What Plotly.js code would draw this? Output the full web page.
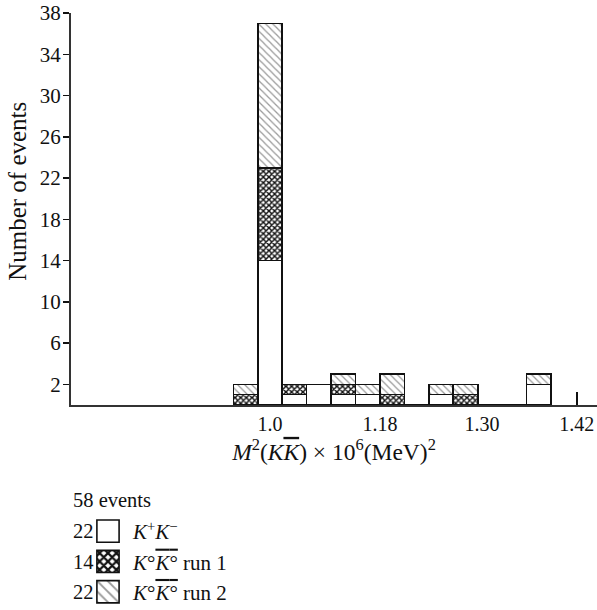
<!DOCTYPE html>
<html>
<head>
<meta charset="utf-8">
<script src="https://cdn.plot.ly/plotly-3.0.1.min.js"></script>
<style>
  html, body { margin: 0; padding: 0; background: #fff; }
  #chart { width: 597px; height: 610px; }
</style>
</head>
<body>
<div id="chart"></div>
<script>
// Histogram bins (index along the M^2 axis) and event counts per sample
const binIndex    = [0, 1, 2, 3, 4, 5, 6, 7, 8, 9, 10, 11, 12];
const kPlusKMinus = [0, 14, 1, 2, 1, 1, 0, 0, 1, 0, 0, 0, 2];
const k0Run1      = [1, 9, 1, 0, 1, 0, 1, 0, 0, 1, 0, 0, 0];
const k0Run2      = [1, 14, 0, 0, 1, 1, 2, 0, 1, 1, 0, 0, 1];

// Axis labelling (positions in bin units)
const xLabelPos  = [1, 5.5, 9.68, 13.55];
const xTickText  = ['1.0', '1.18', '1.30', '1.42'];
const xTickMarks = [1.001, 5.5, 9.5, 13.56];
const yTickVals  = [2, 6, 10, 14, 18, 22, 26, 30, 34, 38];
const yTitle     = 'Number of events';

const OVER = '<span style="text-decoration:overline">';
const sampleNames = [
  '<i>K</i><sup>+</sup><i>K</i><sup>\u2212</sup>',
  '<i>K</i>\u00b0' + OVER + '<i>K</i>\u00b0</span> run 1',
  '<i>K</i>\u00b0' + OVER + '<i>K</i>\u00b0</span> run 2'
];
const sampleTotals = ['22', '14', '22'];
const totalLabel = '58 events';

const FONT = 'Liberation Serif, Times New Roman, serif';
const INK = '#111';
const outline = { color: INK, width: 1.6 };

const traces = [
  {
    type: 'bar', x: binIndex, y: kPlusKMinus, name: sampleNames[0],
    marker: { color: '#ffffff', line: outline }
  },
  {
    type: 'bar', x: binIndex, y: k0Run1, name: sampleNames[1],
    marker: {
      color: INK, line: outline,
      pattern: { shape: 'x', bgcolor: '#ffffff', fgcolor: INK, size: 4, solidity: 0.6, fillmode: 'replace' }
    }
  },
  {
    type: 'bar', x: binIndex, y: k0Run2, name: sampleNames[2],
    marker: {
      color: '#fff', line: outline,
      pattern: { shape: '\\', bgcolor: '#ffffff', fgcolor: '#9a9a9a', size: 5, solidity: 0.25, fillmode: 'replace' }
    }
  }
];

// Total and per-sample counts written in front of the key, plus the rotated y title
const rowY = [-0.3215, -0.400, -0.477];
const annFont = { family: FONT, size: 20.5, color: INK };
const annotations = [
  { xref: 'paper', yref: 'paper', x: 0.0, y: -0.243, xanchor: 'left', yanchor: 'middle',
    text: totalLabel, showarrow: false, font: annFont },
  { xref: 'paper', yref: 'paper', x: -0.101, y: 0.546, xanchor: 'center', yanchor: 'middle',
    textangle: -90, text: yTitle, showarrow: false, font: { family: FONT, size: 25, color: INK } }
].concat(sampleTotals.map((t, i) => ({
  xref: 'paper', yref: 'paper', x: 0.0, y: rowY[i], xanchor: 'left', yanchor: 'middle',
  text: t, showarrow: false, font: annFont
})));

const layout = {
  width: 597, height: 610,
  margin: { l: 71, r: 0, t: 13, b: 205, autoexpand: false },
  paper_bgcolor: '#fff', plot_bgcolor: '#fff',
  font: { family: FONT, size: 20, color: INK },
  barmode: 'stack', bargap: 0,
  showlegend: true,
  legend: {
    x: 0.0228, y: -0.2704, xanchor: 'left', yanchor: 'top',
    traceorder: 'normal', itemwidth: 40, tracegroupgap: 0,
    font: { family: FONT, size: 21, color: INK },
    bgcolor: 'rgba(0,0,0,0)', itemclick: false
  },
  xaxis: {
    range: [-7.14, 14.38],
    tickmode: 'array', tickvals: xLabelPos, ticktext: xTickText,
    ticks: '',
    minor: { tickmode: 'array', tickvals: xTickMarks, ticks: 'inside', ticklen: 13, tickwidth: 1.5, tickcolor: INK, showgrid: false },
    showline: true, linecolor: '#333', linewidth: 2,
    showgrid: false, zeroline: false, layer: 'below traces',
    tickfont: { family: FONT, size: 20, color: INK },
    title: { text: '<i>M</i><sup>2</sup>(<i>K</i>' + OVER + '<i>K</i></span>) \u00d7 10<sup>6</sup>(MeV)<sup>2</sup>',
             font: { family: FONT, size: 23.5, color: INK }, standoff: 3 }
  },
  yaxis: {
    range: [0, 38],
    tickmode: 'array', tickvals: yTickVals,
    ticks: 'outside', ticklen: 6, tickwidth: 1.5, tickcolor: INK,
    ticklabelstandoff: -2,
    showline: true, linecolor: '#333', linewidth: 2,
    showgrid: false, zeroline: false,
    tickfont: { family: FONT, size: 21, color: INK }
  },
  annotations: annotations
};

Plotly.newPlot('chart', traces, layout, { staticPlot: true }).then(function (gd) {
  // Enlarge the legend swatches to the size of the printed key boxes
  gd.querySelectorAll('.legend .legendpoints path').forEach(function (p) {
    const t = p.getAttribute('transform') || '';
    p.setAttribute('transform', t + ' scale(1.85)');
    p.style.vectorEffect = 'non-scaling-stroke';
  });
});
</script>
</body>
</html>
